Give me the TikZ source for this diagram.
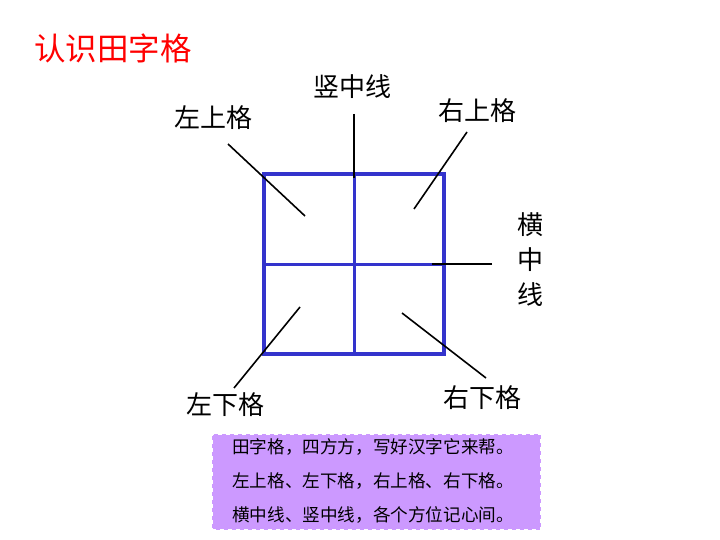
\documentclass[tikz,border=0pt]{standalone}
\usepackage{fontspec}
\setmainfont{Noto Sans CJK SC}
\usepackage{tikz}
\usetikzlibrary{positioning}
\usepackage{xcolor}
\definecolor{gridblue}{RGB}{51,51,204}
\definecolor{lilac}{RGB}{204,153,255}

\begin{document}
\begin{tikzpicture}[x=1pt, y=-1pt, semithick,
            gridline/.style={draw=gridblue, line width=3.6pt},
            midline/.style={draw=gridblue, line width=3pt},
            pointer/.style={draw=black, line width=1.6pt},
            cell/.style={font=\fontsize{26}{26}\selectfont, inner sep=0pt}]

        \useasboundingbox (0,0) rectangle (720,540);

        % --- Title ---
        \node[text=red, font=\fontsize{31.5}{31.5}\selectfont, anchor=west, inner sep=0pt]
            (title) at (34,48) {认识田字格};

        % --- Grid ---
        \coordinate (NW) at (264,174);
        \coordinate (SE) at (444,354);
        \coordinate (C) at (354,264);
        \draw[midline] (C |- NW) -- (C |- SE);
        \draw[midline] (C -| NW) -- (C -| SE);
        \draw[gridline] (NW) rectangle (SE);

        % --- Labels ---
        \node[cell] (ul) at (213,118) {左上格};
        \node[cell] (vm) at (352,87)  {竖中线};
        \node[cell] (ur) at (477,111) {右上格};
        \node[cell, align=center, font=\fontsize{26}{35}\selectfont] (hm) at (530,260) {横\\中\\线};
        \node[cell] (ll) at (225,405) {左下格};
        \node[cell] (lr) at (482,398) {右下格};

        % --- Pointers ---
        \coordinate (ul-a) at (228,144);  \coordinate (ul-b) at (305,216);
        \coordinate (vm-a) at (354,114);  \coordinate (vm-b) at (354,178);
        \coordinate (ur-a) at (467,132);  \coordinate (ur-b) at (414,209);
        \coordinate (hm-a) at (492,264);  \coordinate (hm-b) at (432,264);
        \coordinate (ll-a) at (234,388);  \coordinate (ll-b) at (300,307);
        \coordinate (lr-a) at (486,378);  \coordinate (lr-b) at (402,313);
        \foreach \p in {ul, vm, ur, hm, ll, lr}
            \draw[pointer] (\p-a) -- (\p-b);

        % --- Rhyme box ---
        \node[fill=lilac, draw=white, line width=2pt, dash pattern=on 4pt off 4pt,
            minimum width=329pt, minimum height=96pt, inner sep=0pt] (rhyme) at (376.5,482) {};
        \node[align=left, font=\fontsize{17.6}{34}\selectfont, inner sep=0pt] (verse) at (373,481) {
            田字格，四方方，写好汉字它来帮。\\
            左上格、左下格，右上格、右下格。\\
            横中线、竖中线，各个方位记心间。
        };

    \end{tikzpicture}
\end{document}
